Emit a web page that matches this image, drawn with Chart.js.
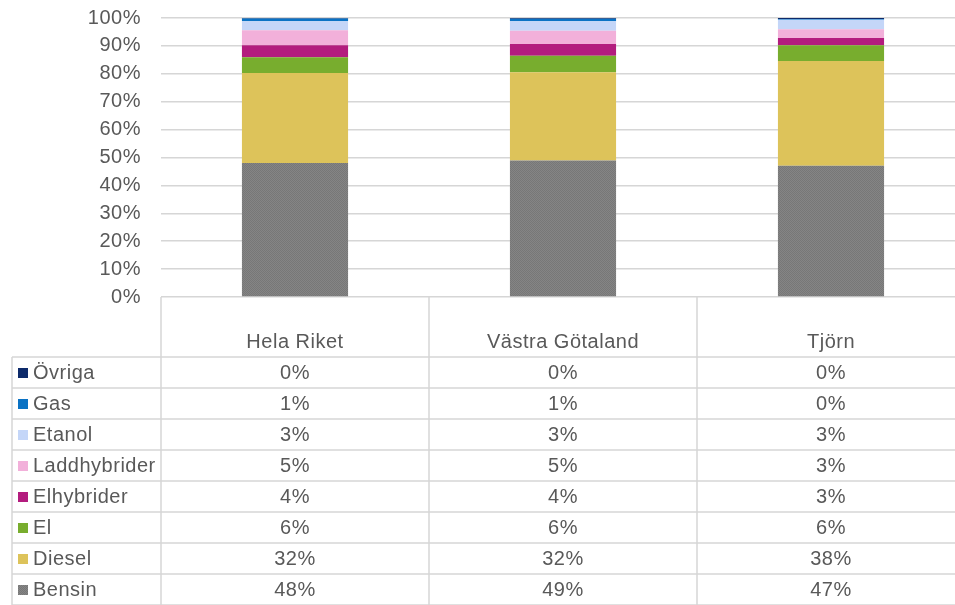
<!DOCTYPE html>
<html>
<head>
<meta charset="utf-8">
<script src="https://cdn.jsdelivr.net/npm/chart.js@4.4.1/dist/chart.umd.min.js"></script>
<style>
  html, body { margin: 0; padding: 0; background: #ffffff; overflow: hidden; }
  #wrap { position: relative; width: 966px; height: 605px; }
</style>
</head>
<body>
<div id="wrap"><canvas id="c" width="966" height="605"></canvas></div>
<script>
// ---- Data ----
const categories = ['Hela Riket', 'Västra Götaland', 'Tjörn'];
const seriesNames = ['Bensin', 'Diesel', 'El', 'Elhybrider', 'Laddhybrider', 'Etanol', 'Gas', 'Övriga'];
const bensin       = [48.0, 48.9, 47.0];
const diesel       = [32.3, 31.7, 37.6];
const el           = [5.6, 5.9, 5.6];
const elhybrider   = [4.3, 4.2, 2.6];
const laddhybrider = [5.4, 4.7, 3.2];
const etanol       = [3.2, 3.4, 3.4];
const gas          = [1.0, 0.9, 0.2];
const ovriga       = [0.2, 0.3, 0.4];
const yTickLabels  = ['0%','10%','20%','30%','40%','50%','60%','70%','80%','90%','100%'];

const seriesValues = [bensin, diesel, el, elhybrider, laddhybrider, etanol, gas, ovriga];
const seriesColors = ['#808080', '#ddc35a', '#78ad2e', '#b31c7e', '#f2b0da', '#c4d6f8', '#0a72c4', '#0d2a6a'];

// checker pattern for Bensin
function makePattern() {
  const p = document.createElement('canvas');
  p.width = 2; p.height = 2;
  const g = p.getContext('2d');
  g.fillStyle = '#858585'; g.fillRect(0, 0, 2, 2);
  g.fillStyle = '#777777'; g.fillRect(0, 0, 1, 1); g.fillRect(1, 1, 1, 1);
  return g.createPattern(p, 'repeat');
}
const bensinPattern = makePattern();

const FONT = 'Liberation Sans, Arial, sans-serif';
const FSIZE = 20;
const SPACING = '0.5px';
const TEXT = '#595959';
const LINE = '#d6d6d6';

const datasets = seriesNames.map((name, i) => ({
  label: name,
  data: seriesValues[i],
  backgroundColor: i === 0 ? bensinPattern : seriesColors[i],
  borderWidth: 0,
  categoryPercentage: 1.0,
  barPercentage: 0.396
}));

const spacingPlugin = {
  id: 'spacing',
  beforeDraw(chart) { chart.ctx.letterSpacing = SPACING; }
};

const tablePlugin = {
  id: 'dataTable',
  afterDraw(chart) {
    const ctx = chart.ctx;
    const xs = chart.scales.x;
    const area = chart.chartArea;
    const H = chart.height;
    const n = categories.length;
    const centers = categories.map((_, i) => xs.getPixelForValue(i));
    const colW = n > 1 ? centers[1] - centers[0] : area.right - area.left;
    const edges = [centers[0] - colW / 2];
    centers.forEach(c => edges.push(c + colW / 2));
    const tableLeft = 12;
    const headerTop = area.bottom;
    const headerBottom = 357;
    const rows = seriesNames.length;
    const rowH = (H - headerBottom) / rows;

    ctx.save();
    ctx.letterSpacing = SPACING;
    ctx.strokeStyle = LINE;
    ctx.lineWidth = 1.5;
    edges.forEach(x => {
      ctx.beginPath(); ctx.moveTo(x, headerTop); ctx.lineTo(x, H); ctx.stroke();
    });
    ctx.beginPath(); ctx.moveTo(tableLeft, headerBottom); ctx.lineTo(tableLeft, H); ctx.stroke();
    for (let r = 0; r <= rows; r++) {
      const y = headerBottom + r * rowH;
      ctx.beginPath(); ctx.moveTo(tableLeft, y); ctx.lineTo(edges[edges.length - 1], y); ctx.stroke();
    }
    ctx.fillStyle = TEXT;
    ctx.font = FSIZE + 'px ' + FONT;
    ctx.textAlign = 'center';
    ctx.textBaseline = 'middle';
    categories.forEach((c, i) => ctx.fillText(c, centers[i], 342));
    for (let r = 0; r < rows; r++) {
      const si = rows - 1 - r;
      const yc = headerBottom + r * rowH + rowH / 2;
      ctx.fillStyle = si === 0 ? bensinPattern : seriesColors[si];
      ctx.fillRect(18, Math.round(yc - 4.5), 10, 10);
      ctx.fillStyle = TEXT;
      ctx.textAlign = 'left';
      ctx.fillText(seriesNames[si], 33, yc + 1);
      ctx.textAlign = 'center';
      seriesValues[si].forEach((v, i) => {
        ctx.fillText(Math.round(v) + '%', centers[i], yc + 1);
      });
    }
    ctx.restore();
  }
};

new Chart(document.getElementById('c'), {
  type: 'bar',
  data: { labels: categories, datasets },
  options: {
    responsive: false,
    animation: false,
    devicePixelRatio: 1,
    layout: { padding: { top: 18, bottom: 308, left: 0, right: 1 } },
    plugins: { legend: { display: false }, tooltip: { enabled: false } },
    scales: {
      x: {
        stacked: true,
        offset: true,
        grid: { display: false, drawTicks: false },
        border: { display: false },
        ticks: { display: false }
      },
      y: {
        stacked: true,
        min: 0,
        max: 100,
        afterFit(scale) { scale.width = 161; },
        grid: { color: LINE, lineWidth: 1.5, drawTicks: true, tickLength: 20, tickColor: 'rgba(0,0,0,0)' },
        border: { display: false },
        ticks: {
          stepSize: 10,
          padding: 0,
          color: TEXT,
          font: { family: FONT, size: FSIZE },
          callback: (v, i) => yTickLabels[Math.round(v / 10)]
        }
      }
    }
  },
  plugins: [spacingPlugin, tablePlugin]
});
</script>
</body>
</html>
